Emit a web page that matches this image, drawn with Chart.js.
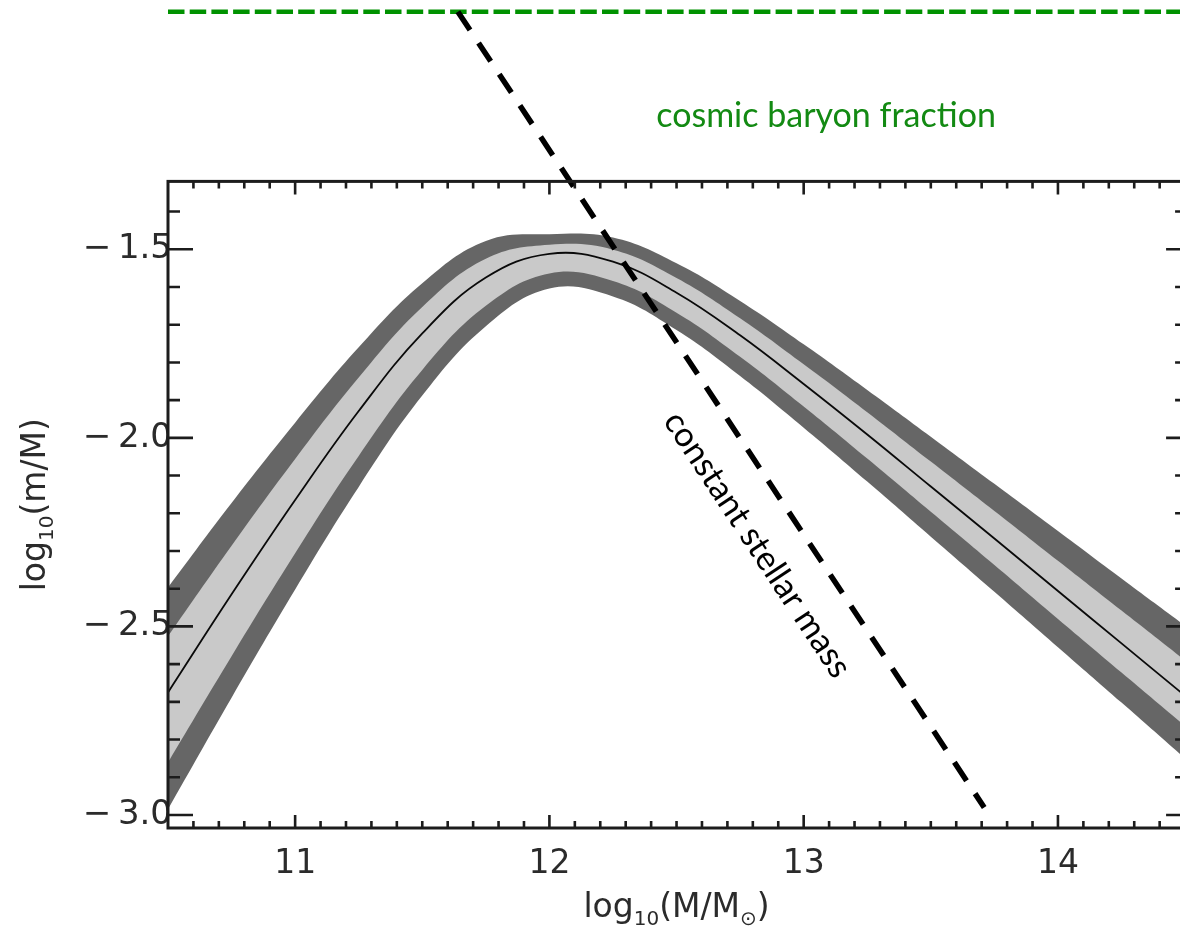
<!DOCTYPE html>
<html>
<head>
<meta charset="utf-8">
<script src="https://cdn.jsdelivr.net/npm/chart.js@4.4.1/dist/chart.umd.min.js"></script>
<style>
  html, body { margin: 0; padding: 0; background: #ffffff; }
  #wrap { width: 1180px; height: 930px; }
  canvas { display: block; }
</style>
</head>
<body>
<div id="wrap"><canvas id="chart" width="1180" height="930"></canvas></div>
<script>
// Halo mass grid, log10(M / Msun)
const logHaloMass = [10.5, 10.75, 11.0, 11.25, 11.5, 11.75, 12.0, 12.25, 12.5, 12.75, 13.0, 13.25, 13.5, 13.75, 14.0, 14.25, 14.5];
// Stellar-to-halo mass ratio, log10(m / M): median relation
const ratioMedian    = [-2.675, -2.415, -2.165, -1.929, -1.723, -1.575, -1.512, -1.533, -1.615, -1.728, -1.857, -1.991, -2.129, -2.267, -2.406, -2.545, -2.684];
// Inner (light) scatter band
const ratioInnerHigh = [-2.526, -2.286, -2.056, -1.840, -1.653, -1.525, -1.488, -1.501, -1.576, -1.683, -1.805, -1.932, -2.063, -2.194, -2.326, -2.458, -2.590];
const ratioInnerLow  = [-2.861, -2.579, -2.306, -2.048, -1.820, -1.650, -1.564, -1.584, -1.668, -1.785, -1.917, -2.055, -2.196, -2.337, -2.480, -2.622, -2.764];
// Outer (dark) scatter band
const ratioOuterHigh = [-2.397, -2.173, -1.960, -1.760, -1.590, -1.478, -1.460, -1.469, -1.537, -1.637, -1.752, -1.873, -1.997, -2.122, -2.247, -2.373, -2.498];
const ratioOuterLow  = [-2.985, -2.689, -2.402, -2.130, -1.888, -1.704, -1.604, -1.625, -1.714, -1.836, -1.973, -2.116, -2.262, -2.408, -2.555, -2.702, -2.850];

// Reference lines
const baryonLineMass  = [10.5, 14.5];
const baryonLineRatio = [-0.87, -0.87];
const stellarLineMass  = [11.64, 13.71];
const stellarLineRatio = [-0.87, -2.98];

// Axis ticks and ranges
const xMajorTicks = [11, 12, 13, 14];
const xTickLabels = ['11', '12', '13', '14'];
const yMajorTicks = [-3.0, -2.5, -2.0, -1.5];
const yTickLabels = ['\u2212\u20093.0', '\u2212\u20092.5', '\u2212\u20092.0', '\u2212\u20091.5'];
const frameX = [10.5, 14.5];
const frameY = [-3.0345, -1.32];
const xRange = [10.5, 14.48];
const yRange = [-3.0345, -0.839];

const pts = (xs, ys) => xs.map((x, i) => ({ x, y: ys[i] }));

const AXIS_FONT = 'DejaVu Sans';
const INK = '#1c1c1c';

// Plot frame with inward-pointing major/minor ticks, axis titles, annotations
const frameAndText = {
  id: 'frameAndText',
  afterDatasetsDraw(chart) {
    const { ctx, scales: { x, y } } = chart;
    const left = x.getPixelForValue(frameX[0]);
    const right = x.getPixelForValue(frameX[1]);
    const top = y.getPixelForValue(frameY[1]);
    const bottom = y.getPixelForValue(frameY[0]);
    ctx.save();
    ctx.strokeStyle = INK;
    ctx.lineWidth = 3;
    ctx.strokeRect(left, top, right - left, bottom - top);

    ctx.lineWidth = 2.6;
    ctx.beginPath();
    for (let i = 1; i < 40; i++) {
      const k = 105 + i;
      const px = x.getPixelForValue(k / 10);
      const len = (k % 10 === 0) ? 13 : 7;
      ctx.moveTo(px, bottom); ctx.lineTo(px, bottom - len);
      ctx.moveTo(px, top); ctx.lineTo(px, top + len);
    }
    for (let k = -30; k <= -14; k++) {
      const py = y.getPixelForValue(k / 10);
      const major = (k % 5 === 0);
      ctx.moveTo(left, py); ctx.lineTo(left + (major ? 25 : 12), py);
      ctx.moveTo(right, py); ctx.lineTo(right - (major ? 19 : 10), py);
    }
    ctx.stroke();
    ctx.restore();
  },
  afterDraw(chart) {
    const { ctx, scales: { x, y } } = chart;
    const left = x.getPixelForValue(frameX[0]);
    const right = x.getPixelForValue(frameX[1]);
    const top = y.getPixelForValue(frameY[1]);
    const bottom = y.getPixelForValue(frameY[0]);

    // text made of normal and subscript runs
    const drawRuns = (runs, cx, baseY) => {
      const widths = runs.map(r => {
        ctx.font = (r.sub ? 20 : 33) + 'px "' + AXIS_FONT + '"';
        return ctx.measureText(r.t).width;
      });
      let cur = cx - widths.reduce((a, b) => a + b, 0) / 2;
      runs.forEach((r, i) => {
        ctx.font = (r.sub ? 20 : 33) + 'px "' + AXIS_FONT + '"';
        ctx.fillText(r.t, cur, baseY + (r.sub ? 8 : 0));
        cur += widths[i];
      });
    };

    ctx.save();
    ctx.fillStyle = '#2b2b2b';
    ctx.textBaseline = 'alphabetic';
    ctx.textAlign = 'left';
    drawRuns([{ t: 'log' }, { t: '10', sub: true }, { t: '(M/M' }, { t: '\u2299', sub: true }, { t: ')' }],
             (left + right) / 2, 917);

    ctx.translate(45, (top + bottom) / 2);
    ctx.rotate(-Math.PI / 2);
    drawRuns([{ t: 'log' }, { t: '10', sub: true }, { t: '(m/M)' }], 0, 0);
    ctx.restore();

    // annotation: cosmic baryon fraction
    ctx.save();
    ctx.fillStyle = '#138a13';
    ctx.font = '34px Lato';
    ctx.textAlign = 'center';
    ctx.textBaseline = 'alphabetic';
    ctx.fillText('cosmic baryon fraction', x.getPixelForValue(13.088), y.getPixelForValue(-1.176));
    ctx.restore();

    // annotation along the constant stellar mass line
    const x1 = x.getPixelForValue(stellarLineMass[0]), y1 = y.getPixelForValue(stellarLineRatio[0]);
    const x2 = x.getPixelForValue(stellarLineMass[1]), y2 = y.getPixelForValue(stellarLineRatio[1]);
    ctx.save();
    ctx.fillStyle = '#000000';
    ctx.font = '34px Lato';
    ctx.translate(x.getPixelForValue(12.818), y.getPixelForValue(-2.283));
    ctx.rotate(Math.atan2(y2 - y1, x2 - x1));
    ctx.textAlign = 'center';
    ctx.textBaseline = 'middle';
    ctx.fillText('constant stellar mass', 0, 0);
    ctx.restore();
  }
};

new Chart(document.getElementById('chart'), {
  type: 'line',
  data: {
    datasets: [
      {
        data: pts(stellarLineMass, stellarLineRatio),
        borderColor: '#000000', borderWidth: 5.5, borderDash: [22, 15.5],
        pointRadius: 0, fill: false, tension: 0
      },
      {
        data: pts(baryonLineMass, baryonLineRatio),
        borderColor: '#009200', borderWidth: 4.5, borderDash: [16.5, 5.2],
        pointRadius: 0, fill: false, tension: 0
      },
      {
        data: pts(logHaloMass, ratioMedian),
        borderColor: '#0a0a0a', borderWidth: 1.8,
        pointRadius: 0, fill: false, tension: 0.4
      },
      {
        data: pts(logHaloMass, ratioInnerHigh),
        borderWidth: 0, borderColor: 'rgba(0,0,0,0)', backgroundColor: '#c9c9c9',
        pointRadius: 0, fill: '+1', tension: 0.4
      },
      {
        data: pts(logHaloMass, ratioInnerLow),
        borderWidth: 0, borderColor: 'rgba(0,0,0,0)',
        pointRadius: 0, fill: false, tension: 0.4
      },
      {
        data: pts(logHaloMass, ratioOuterHigh),
        borderWidth: 0, borderColor: 'rgba(0,0,0,0)', backgroundColor: '#666666',
        pointRadius: 0, fill: '+1', tension: 0.4
      },
      {
        data: pts(logHaloMass, ratioOuterLow),
        borderWidth: 0, borderColor: 'rgba(0,0,0,0)',
        pointRadius: 0, fill: false, tension: 0.4
      }
    ]
  },
  options: {
    responsive: false,
    animation: false,
    devicePixelRatio: 1,
    layout: { padding: 0 },
    plugins: { legend: { display: false }, tooltip: { enabled: false }, title: { display: false } },
    scales: {
      x: {
        type: 'linear', min: xRange[0], max: xRange[1],
        grid: { display: false, drawTicks: false },
        border: { display: false },
        afterBuildTicks: (s) => { s.ticks = xMajorTicks.map(v => ({ value: v })); },
        afterFit: (s) => { s.height = 102; s.paddingLeft = 0; s.paddingRight = 0; },
        ticks: {
          callback: (v, i) => xTickLabels[i],
          font: { family: AXIS_FONT, size: 33 }, color: '#2b2b2b',
          padding: 17, maxRotation: 0, autoSkip: false
        }
      },
      y: {
        type: 'linear', min: yRange[0], max: yRange[1],
        grid: { display: false, drawTicks: false },
        border: { display: false },
        afterBuildTicks: (s) => { s.ticks = yMajorTicks.map(v => ({ value: v })); },
        afterFit: (s) => { s.width = 168; s.paddingTop = 0; s.paddingBottom = 0; },
        ticks: {
          callback: (v, i) => yTickLabels[i],
          font: { family: AXIS_FONT, size: 34 }, color: '#2b2b2b',
          padding: -4, autoSkip: false
        }
      }
    }
  },
  plugins: [frameAndText]
});
</script>
</body>
</html>
